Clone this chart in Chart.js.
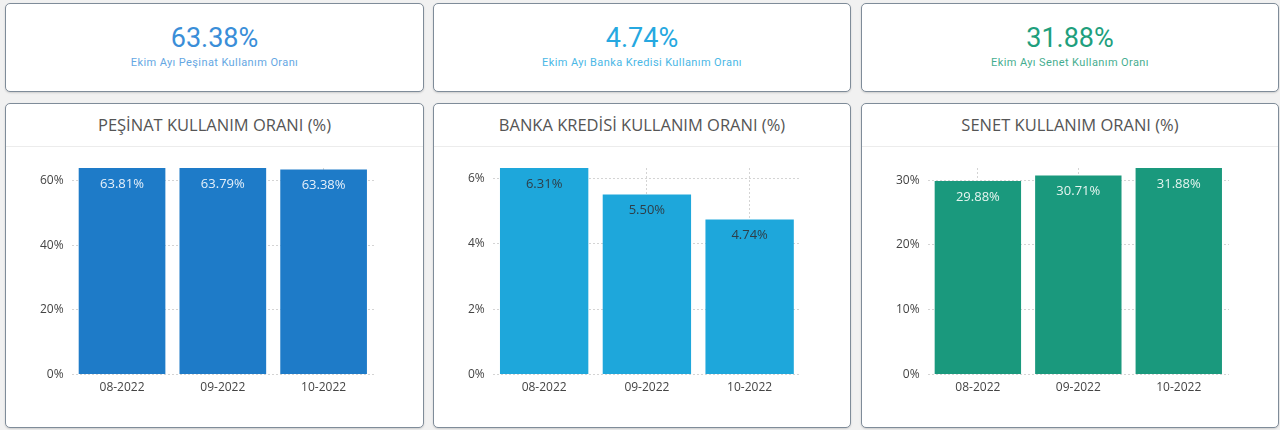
<!DOCTYPE html>
<html>
<head>
<meta charset="utf-8">
<script src="https://cdn.jsdelivr.net/npm/chart.js@4/dist/chart.umd.min.js"></script>
<style>
  body { margin: 0; background: #f1f1f1; font-family: "Open Sans", sans-serif; width: 1280px; height: 430px; overflow: hidden; }
  .card { position: absolute; background: #fff; border: 1px solid #7f8c99; border-radius: 5px; box-sizing: border-box; box-shadow: 0 1px 2px rgba(0,0,0,0.15); }
  .stat { top: 3px; height: 89px; text-align: center; }
  .stat .val { font-family: Roboto, sans-serif; font-size: 27px; margin-top: 18px; line-height: 32px; }
  .stat .sub { font-family: Roboto, sans-serif; font-size: 11px; letter-spacing: 0.4px; margin-top: 2px; opacity: 0.85; }
  .panel { top: 103px; height: 325px; }
  .panel .head { height: 42px; line-height: 42px; text-align: center; font-size: 16.5px; color: #555; border-bottom: 1px solid #ececec; }
  .panel .box { position: relative; height: 280px; }
</style>
</head>
<body>
<div class="card stat" style="left:5px;width:419px"><div class="val" style="color:#3a8ed8">63.38%</div><div class="sub" style="color:#4a98de">Ekim Ayı Peşinat Kullanım Oranı</div></div>
<div class="card stat" style="left:433px;width:418px"><div class="val" style="color:#26a8e0">4.74%</div><div class="sub" style="color:#2aace2">Ekim Ayı Banka Kredisi Kullanım Oranı</div></div>
<div class="card stat" style="left:861px;width:418px"><div class="val" style="color:#1f9f7d">31.88%</div><div class="sub" style="color:#1f9f7d">Ekim Ayı Senet Kullanım Oranı</div></div>

<div class="card panel" style="left:5px;width:419px"><div class="head">PEŞİNAT KULLANIM ORANI (%)</div><div class="box"><canvas id="c1"></canvas></div></div>
<div class="card panel" style="left:433px;width:418px"><div class="head">BANKA KREDİSİ KULLANIM ORANI (%)</div><div class="box"><canvas id="c2"></canvas></div></div>
<div class="card panel" style="left:861px;width:418px"><div class="head">SENET KULLANIM ORANI (%)</div><div class="box"><canvas id="c3"></canvas></div></div>

<script>
// data
const months = ['08-2022', '09-2022', '10-2022'];
const pesinat = [63.81, 63.79, 63.38];
const banka = [6.31, 5.50, 4.74];
const senet = [29.88, 30.71, 31.88];

// draws the value inside the top of each bar
const valueLabels = {
    id: 'valueLabels',
    afterDatasetsDraw(chart, args, opts) {
        const ctx = chart.ctx;
        const meta = chart.getDatasetMeta(0);
        ctx.save();
        ctx.font = '13px "Open Sans"';
        ctx.fillStyle = opts.color;
        ctx.textAlign = 'center';
        ctx.textBaseline = 'middle';
        meta.data.forEach((bar, i) => {
            const v = chart.data.datasets[0].data[i];
            ctx.fillText(v.toFixed(2) + '%', bar.x, bar.y + 16);
        });
        ctx.restore();
    }
};

function makeChart(id, data, color, labelColor, step) {
    new Chart(document.getElementById(id), {
        type: 'bar',
        data: {
            labels: months,
            datasets: [{
                data: data,
                backgroundColor: color,
                barPercentage: 0.86,
                categoryPercentage: 1,
            }],
        },
        plugins: [valueLabels],
        options: {
            responsive: true,
            maintainAspectRatio: false,
            animation: false,
            layout: { padding: { top: 21, left: 26, right: 49, bottom: 26 } },
            plugins: {
                legend: { display: false },
                tooltip: { enabled: false },
                valueLabels: { color: labelColor },
            },
            scales: {
                x: {
                    grid: { offset: false, color: '#d4d4d4', drawTicks: false },
                    border: { display: false, dash: [2, 2] },
                    ticks: { color: '#444', font: { family: 'Open Sans', size: 12 }, padding: 6 },
                },
                y: {
                    min: 0,
                    max: Math.max(...data),
                    grid: { color: '#d4d4d4', drawTicks: false },
                    border: { display: false, dash: [2, 2] },
                    ticks: {
                        stepSize: step,
                        includeBounds: false,
                        padding: 8,
                        color: '#444',
                        font: { family: 'Open Sans', size: 12 },
                        callback: (v) => v + '%',
                    },
                },
            },
        },
    });
}

makeChart('c1', pesinat, '#1e7bc8', '#e6f0fa', 20);
makeChart('c2', banka, '#1ea7db', '#2e3e48', 2);
makeChart('c3', senet, '#1a997d', '#e6f5f0', 10);
</script>
</body>
</html>
